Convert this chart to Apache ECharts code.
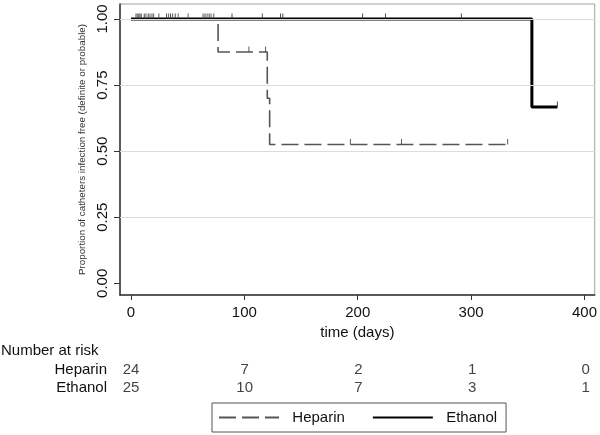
<!DOCTYPE html>
<html>
<head>
<meta charset="utf-8">
<script src="https://cdn.jsdelivr.net/npm/echarts@6/dist/echarts.min.js"></script>
<style>
html,body{margin:0;padding:0;background:#fff;}
#chart{width:600px;height:435px;}
</style>
</head>
<body>
<div id="chart"></div>
<script>
// ---- data ----
const xTicks = [0, 100, 200, 300, 400];
const yTicks = [0, 0.25, 0.5, 0.75, 1];
const gridValues = [0.25, 0.5, 0.75, 1];

const heparinTimes = [0, 76.8, 120.2, 122.3, 332.2];
const heparinSurv  = [1, 0.875, 0.7, 0.525, 0.525];
const ethanolTimes = [0, 353.6, 376.1];
const ethanolSurv  = [1, 0.667, 0.667];

const heparinCensor = [4.4, 5.5, 6.8, 9.1, 13.2, 16.7, 20.0, 24.6, 33.2, 36.7, 41.6, 50.4, 63.6, 67.1, 70.6, 73.0, 104.0, 118.7, 193.5, 238.6, 332.2];
const ethanolCensor = [7.9, 11.7, 15.2, 18.5, 31.4, 34.9, 39.0, 65.3, 68.9, 89.1, 115.8, 131.9, 133.9, 204.3, 224.5, 291.4, 376.1];

const riskTimes   = [0, 100, 200, 300, 400];
const riskGroups  = ['Heparin', 'Ethanol'];
const heparinRisk = [24, 7, 2, 1, 0];
const ethanolRisk = [25, 10, 7, 3, 1];

// ---- helpers ----
function survAt(times, surv, t) {
  let v = surv[0];
  for (let i = 0; i < times.length; i++) { if (times[i] <= t) v = surv[i]; }
  return v;
}
const pairs = (xs, ys) => xs.map((x, i) => [x, ys[i]]);
const censorPts = (c, times, surv) => c.map(t => [t, survAt(times, surv, t)]);

const FONT = 'Liberation Sans, Arial, sans-serif';
const XMIN = -9.7, XMAX = 409;

const chart = echarts.init(document.getElementById('chart'), null, {renderer: 'canvas'});

const option = {
  animation: false,
  backgroundColor: '#ffffff',
  textStyle: {fontFamily: FONT},
  grid: [
    {left: 120, right: 4, top: 4, bottom: 140, show: true, borderColor: '#a0a0a0', borderWidth: 1},
    {left: 120, right: 4, top: 360.5, height: 36}
  ],
  xAxis: [
    {
      gridIndex: 0, type: 'value', min: XMIN, max: XMAX,
      name: 'time (days)', nameLocation: 'middle', nameGap: 27,
      nameTextStyle: {fontSize: 15, color: '#111', fontFamily: FONT},
      axisLine: {show: true, onZero: false, lineStyle: {color: '#333', width: 1.5}},
      axisTick: {show: true, length: 5, customValues: xTicks, lineStyle: {color: '#333'}},
      axisLabel: {customValues: xTicks, fontSize: 15, color: '#111', margin: 10, fontFamily: FONT},
      splitLine: {show: false}
    },
    {
      gridIndex: 1, type: 'value', min: XMIN, max: XMAX, show: false,
      splitLine: {show: false}
    }
  ],
  yAxis: [
    {
      gridIndex: 0, type: 'value', min: -0.0443, max: 1.0568,
      name: 'Proportion of catheters infection free (definite or probable)',
      nameLocation: 'middle', nameRotate: 90, nameGap: 26,
      nameTextStyle: {fontSize: 9.8, color: '#333', fontFamily: FONT},
      axisLine: {show: true, onZero: false, lineStyle: {color: '#333', width: 1.5}},
      axisTick: {show: true, length: 6, customValues: yTicks, lineStyle: {color: '#333'}},
      axisLabel: {
        customValues: yTicks, rotate: 90, fontSize: 15, color: '#111', margin: 10, fontFamily: FONT,
        formatter: v => v.toFixed(2)
      },
      splitLine: {show: false}
    },
    {
      gridIndex: 1, type: 'category', data: riskGroups, inverse: true,
      axisLine: {show: false}, axisTick: {show: false},
      axisLabel: {interval: 0, fontSize: 15, color: '#111', margin: 13, fontFamily: FONT},
      splitLine: {show: false}
    }
  ],
  legend: {
    data: ['Heparin', 'Ethanol'],
    left: 212, top: 403,
    itemWidth: 60, itemHeight: 14, itemGap: 27,
    padding: [7, 9, 7, 6],
    borderColor: '#555', borderWidth: 1,
    formatter: n => '  ' + n,
    itemStyle: {color: 'rgba(0,0,0,0)', borderWidth: 0, opacity: 0},
    textStyle: {fontSize: 15, color: '#111', fontFamily: FONT}
  },
  graphic: [
    {type: 'text', left: 1, top: 343, style: {text: 'Number at risk', fontSize: 15, fill: '#111', fontFamily: FONT}}
  ],
  series: [
    {
      name: 'Heparin', type: 'line', step: 'end', xAxisIndex: 0, yAxisIndex: 0,
      data: pairs(heparinTimes, heparinSurv), symbol: 'none',
      lineStyle: {color: '#555', width: 1.6, type: [17, 6]}, itemStyle: {color: '#888'},
      z: 3,
      markLine: {
        silent: true, symbol: 'none', label: {show: false},
        lineStyle: {color: '#dcdcdc', width: 1, type: 'solid'},
        data: gridValues.map(v => ({yAxis: v}))
      }
    },
    {
      name: 'Ethanol', type: 'line', step: 'end', xAxisIndex: 0, yAxisIndex: 0,
      data: pairs(ethanolTimes, ethanolSurv), symbol: 'none',
      lineStyle: {color: '#000', width: 3, type: 'solid'}, itemStyle: {color: '#000'},
      z: 4
    },
    {
      name: 'Heparin censored', type: 'scatter', xAxisIndex: 0, yAxisIndex: 0,
      data: censorPts(heparinCensor, heparinTimes, heparinSurv),
      symbol: 'rect', symbolSize: [1, 5.5], symbolOffset: [0, -2.75],
      itemStyle: {color: '#333'}, z: 5
    },
    {
      name: 'Ethanol censored', type: 'scatter', xAxisIndex: 0, yAxisIndex: 0,
      data: censorPts(ethanolCensor, ethanolTimes, ethanolSurv),
      symbol: 'rect', symbolSize: [1, 5.5], symbolOffset: [0, -2.75],
      itemStyle: {color: '#222'}, z: 5
    },
    {
      name: 'Heparin at risk', type: 'scatter', xAxisIndex: 1, yAxisIndex: 1,
      data: riskTimes.map((t, i) => [t, 'Heparin', heparinRisk[i]]),
      symbolSize: 0,
      label: {show: true, position: 'inside', formatter: p => String(p.value[2]), fontSize: 15, color: '#111', fontFamily: FONT}
    },
    {
      name: 'Ethanol at risk', type: 'scatter', xAxisIndex: 1, yAxisIndex: 1,
      data: riskTimes.map((t, i) => [t, 'Ethanol', ethanolRisk[i]]),
      symbolSize: 0,
      label: {show: true, position: 'inside', formatter: p => String(p.value[2]), fontSize: 15, color: '#111', fontFamily: FONT}
    }
  ]
};
chart.setOption(option);
</script>
</body>
</html>
